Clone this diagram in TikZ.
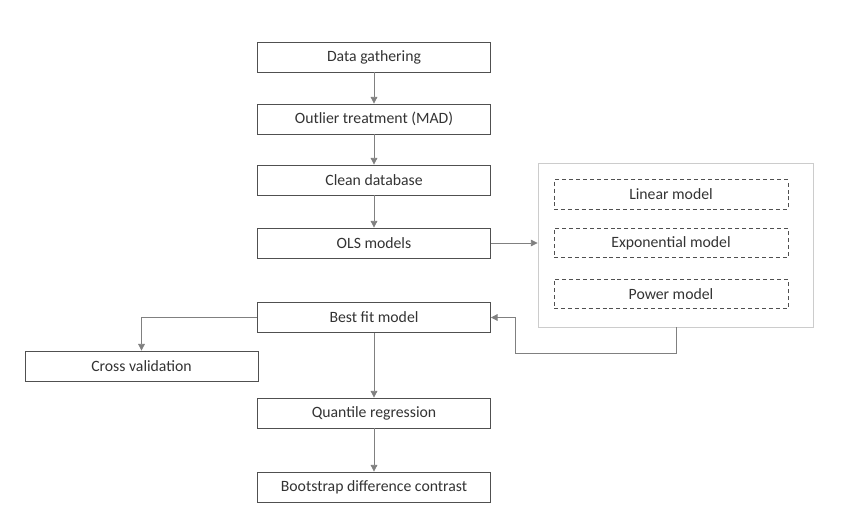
\documentclass[tikz,border=0pt]{standalone}
\usepackage{fontspec}
\setmainfont{Carlito}
\usetikzlibrary{arrows.meta}
\definecolor{boxc}{HTML}{505050}
\definecolor{arrc}{HTML}{808080}
\definecolor{grpc}{HTML}{CCCCCC}
\definecolor{txtc}{HTML}{333333}
\begin{document}
\begin{tikzpicture}[x=0.75pt,y=-0.75pt,
  mainbox/.style={draw=boxc,line width=0.6pt,minimum width=174.75pt,minimum height=22.5pt,inner sep=0pt,text=txtc,font=\fontsize{11.8}{13}\selectfont},
  dashbox/.style={draw=boxc,line width=0.6pt,dash pattern=on 3pt off 2.2pt,minimum width=175.5pt,minimum height=22pt,inner sep=0pt,text=txtc,font=\fontsize{11.8}{13}\selectfont},
  grpbox/.style={draw=grpc,line width=0.7pt,minimum width=206.25pt,minimum height=123pt,inner sep=0pt},
  conn/.style={draw=arrc,line width=0.6pt,-{Triangle[length=5pt,width=5pt]}}]
\useasboundingbox (0,0) rectangle (847,531);
\node[mainbox] (dg) at (374,57) {Data gathering};
\node[mainbox] (ot) at (374,119) {Outlier treatment (MAD)};
\node[mainbox] (cd) at (374,180) {Clean database};
\node[mainbox] (ols) at (374,243) {OLS models};
\node[mainbox] (bf) at (374,317.5) {Best fit model};
\node[mainbox] (cv) at (141.5,366) {Cross validation};
\node[mainbox] (qr) at (374,413) {Quantile regression};
\node[mainbox] (bs) at (374,487) {Bootstrap difference contrast};
\node[grpbox] (grp) at (675.5,245) {};
\node[dashbox] (lin) at (671,194.5) {Linear model};
\node[dashbox] (exp) at (671,243) {Exponential model};
\node[dashbox] (pow) at (671,294) {Power model};
\coordinate (loopa) at (676,353);
\coordinate (loopb) at (515,353);
\draw[conn] (dg) -- (ot);
\draw[conn] (ot) -- (cd);
\draw[conn] (cd) -- (ols);
\draw[conn] (ols) -- (ols -| grp.west);
\draw[conn] (grp.south -| loopa) -- (loopa) -- (loopb) |- (bf.east);
\draw[conn] (bf.west) -| (cv.north);
\draw[conn] (bf) -- (qr);
\draw[conn] (qr) -- (bs);
\end{tikzpicture}
\end{document}
